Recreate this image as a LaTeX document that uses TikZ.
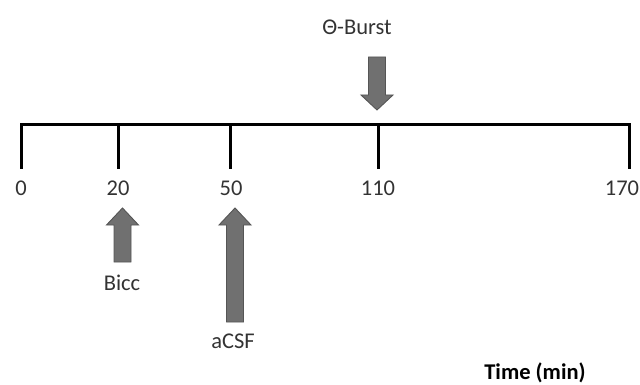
\documentclass[tikz,border=0pt]{standalone}
\usepackage{fontspec}
\setmainfont{Carlito}
\definecolor{arrowfill}{HTML}{707070}
\definecolor{arrowedge}{HTML}{555555}
\definecolor{labeltext}{HTML}{333333}
\tikzset{
  axisline/.style={line width=3pt, line cap=rect},
  ticklabel/.style={font=\fontsize{22.5}{25}\selectfont, text=labeltext, inner sep=0pt},
  marker/.style={draw=arrowedge, fill=arrowfill, line width=0.9pt, line join=miter},
}
% block arrow: centre x, tip y, head base y, tail y
\newcommand\blockarrow[4]{%
  \draw[marker] (#1-8.5,#4) -- (#1+8.5,#4) -- (#1+8.5,#3) -- (#1+16,#3)
    -- (#1,#2) -- (#1-16,#3) -- (#1-8.5,#3) -- cycle;}
\begin{document}
\begin{tikzpicture}[x=1pt,y=-1pt]
\useasboundingbox (0,0) rectangle (640,385);
% time axis
\coordinate (t0) at (21,125);
\coordinate (t20) at (118,125);
\coordinate (t50) at (230,125);
\coordinate (t110) at (378,125);
\coordinate (t170) at (629,125);
\coordinate (b0) at (21,168);
\coordinate (b20) at (118,168);
\coordinate (b50) at (230,168);
\coordinate (b110) at (378,168);
\coordinate (b170) at (629,168);
\draw[axisline] (b0) -- (t0) -- (t170) -- (b170);
\draw[axisline] (t20) -- (b20);
\draw[axisline] (t50) -- (b50);
\draw[axisline] (t110) -- (b110);
% tick labels
\node[ticklabel] (l0) at (21,188) {0};
\node[ticklabel] (l20) at (118,188) {20};
\node[ticklabel] (l50) at (231,188) {50};
\node[ticklabel] (l110) at (378,188) {110};
\node[ticklabel] (l170) at (622,188) {170};
% event arrows
\blockarrow{377}{110}{95}{57}
\blockarrow{122.5}{208}{225}{262}
\blockarrow{235}{208}{225}{322}
% event labels
\node[ticklabel] (burstlab) at (357,27) {Θ-Burst};
\node[ticklabel] (bicclab) at (122,283) {Bicc};
\node[ticklabel] (acsflab) at (233,341) {aCSF};
\node[ticklabel, font=\fontsize{22.5}{25}\selectfont\bfseries, text=black] (axislab) at (535,373) {Time (min)};
\end{tikzpicture}
\end{document}
